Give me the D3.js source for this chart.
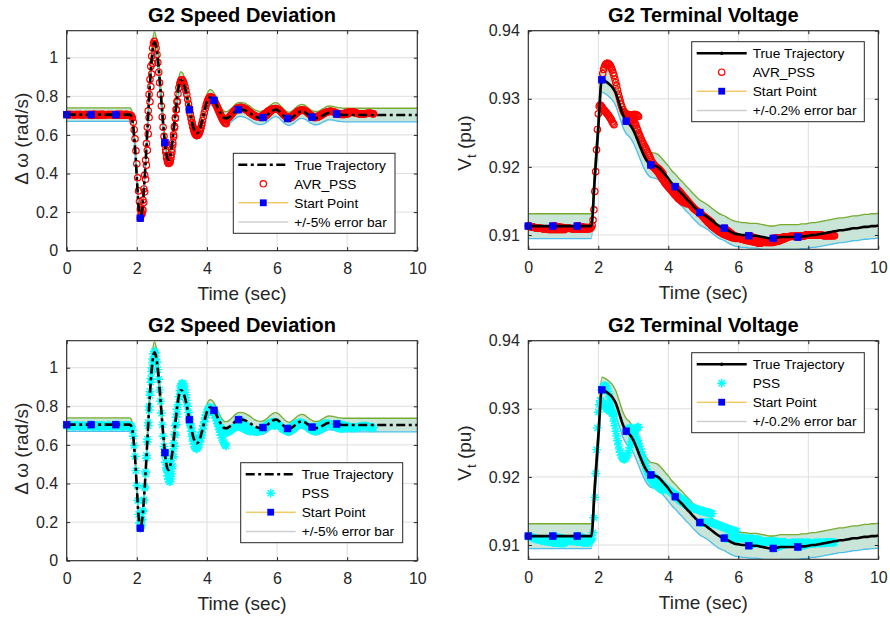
<!DOCTYPE html>
<html>
<head>
<meta charset="utf-8">
<script src="https://cdn.jsdelivr.net/npm/d3@7"></script>
<style>
  html, body { margin: 0; padding: 0; background: #ffffff; }
  svg { display: block; font-family: "Liberation Sans", Arial, Helvetica, sans-serif; }
</style>
</head>
<body>
<svg id="fig" width="890" height="620"></svg>
<script>
// ---------------- data ----------------
const xTicks = [0, 2, 4, 6, 8, 10];
const speedTicks = [0, 0.2, 0.4, 0.6, 0.8, 1];
const voltTicks = [0.91, 0.92, 0.93, 0.94];

// relative half-width of the error bands
const speedErrPct = 0.05;
const voltErrPct = 0.002;

// true G2 speed deviation (rad/s), sampled every 0.05 s from 0 to 10 s
const speedTrueStep = 0.05;
const speedTrue = [
  0.705,0.705,0.705,0.705,0.705,0.705,0.705,0.705,0.705,0.705,
  0.705,0.705,0.705,0.705,0.705,0.705,0.705,0.705,0.705,0.705,
  0.705,0.705,0.705,0.705,0.705,0.705,0.705,0.705,0.705,0.705,
  0.705,0.705,0.705,0.705,0.705,0.705,0.705,0.695,0.640,0.530,
  0.380,0.228,0.168,0.210,0.310,0.455,0.620,0.790,0.935,1.035,
  1.080,1.057,0.990,0.890,0.775,0.660,0.560,0.493,0.470,0.490,
  0.544,0.623,0.713,0.796,0.856,0.883,0.879,0.858,0.824,0.780,
  0.731,0.687,0.647,0.620,0.608,0.613,0.632,0.664,0.700,0.739,
  0.771,0.790,0.795,0.790,0.779,0.763,0.744,0.725,0.708,0.695,
  0.687,0.686,0.689,0.695,0.703,0.712,0.720,0.727,0.731,0.732,
  0.731,0.729,0.726,0.721,0.716,0.710,0.703,0.697,0.693,0.690,
  0.688,0.688,0.690,0.694,0.700,0.708,0.716,0.723,0.728,0.731,
  0.730,0.724,0.716,0.706,0.697,0.690,0.685,0.684,0.687,0.693,
  0.700,0.708,0.715,0.720,0.722,0.721,0.717,0.710,0.703,0.697,
  0.692,0.688,0.687,0.688,0.690,0.695,0.700,0.705,0.710,0.713,
  0.714,0.713,0.712,0.710,0.708,0.706,0.705,0.704,0.703,0.703,
  0.703,0.703,0.703,0.703,0.703,0.703,0.703,0.703,0.703,0.703,
  0.703,0.703,0.703,0.703,0.703,0.703,0.703,0.703,0.703,0.703,
  0.703,0.703,0.703,0.703,0.703,0.703,0.703,0.703,0.703,0.703,
  0.703,0.703,0.703,0.703,0.703,0.703,0.703,0.703,0.703,0.703,
  0.703
];

// true G2 terminal voltage (pu), sampled every 0.1 s from 0 to 10 s
const voltTrueStep = 0.1;
const voltTrue = [
  0.9113,0.9113,0.9113,0.9113,0.9113,0.9113,0.9113,0.9113,0.9113,0.9113,
  0.9113,0.9113,0.9113,0.9113,0.9113,0.9113,0.9113,0.9113,0.9113,0.9185,
  0.9258,0.9328,0.9326,0.9322,0.9317,0.9308,0.9293,0.9277,0.9267,0.9262,
  0.9254,0.9242,0.9229,0.9217,0.9208,0.9203,0.9202,0.9200,0.9195,0.9189,
  0.9183,0.9176,0.9171,0.9165,0.9160,0.9154,0.9149,0.9143,0.9138,0.9133,
  0.9130,0.9127,0.9123,0.9119,0.9115,0.9112,0.9110,0.9107,0.9104,0.9102,
  0.9101,0.9100,0.9100,0.9099,0.9099,0.9099,0.9098,0.9097,0.9096,0.9095,
  0.9095,0.9096,0.9097,0.9097,0.9097,0.9097,0.9097,0.9097,0.9098,0.9098,
  0.9099,0.9100,0.9100,0.9101,0.9102,0.9103,0.9104,0.9105,0.9106,0.9107,
  0.9107,0.9108,0.9109,0.9110,0.9110,0.9111,0.9112,0.9112,0.9113,0.9113,
  0.9114
];

// start points of the estimation windows
const startTimes = [0, 0.7, 1.4, 2.1, 2.8, 3.5, 4.2, 4.9, 5.6, 6.3, 7.0, 7.7];
const speedStart = [0.705,0.705,0.705,0.168,0.560,0.731,0.779,0.731,0.690,0.685,0.692,0.708];
const voltStart = [0.9113,0.9113,0.9113,0.9328,0.9267,0.9203,0.9171,0.9133,0.9110,0.9099,0.9095,0.9097];

// estimated trajectories: one window per start point, 0.025 s apart, 43 samples each
const estStep = 0.025;

const avrSpeedSegments = [
  [0.706,0.706,0.705,0.705,0.706,0.706,0.705,0.705,0.704,0.704,0.705,0.705,0.706,0.706,0.705,0.705,0.705,0.705,0.704,0.704,0.705,0.705,0.706,0.706,0.705,0.705,0.705,0.705,0.704,0.704,0.705,0.705,0.706,0.706,0.705,0.705,0.704,0.704,0.705,0.705,0.705,0.705,0.706],
  [0.705,0.705,0.706,0.706,0.705,0.705,0.704,0.704,0.705,0.705,0.705,0.705,0.706,0.706,0.705,0.705,0.704,0.704,0.705,0.705,0.706,0.706,0.705,0.705,0.705,0.705,0.704,0.704,0.705,0.705,0.706,0.706,0.705,0.705,0.705,0.705,0.704,0.704,0.705,0.705,0.706,0.706,0.705],
  [0.705,0.705,0.705,0.706,0.706,0.705,0.705,0.705,0.705,0.704,0.704,0.705,0.705,0.704,0.704,0.703,0.702,0.701,0.698,0.687,0.665,0.627,0.580,0.518,0.450,0.378,0.310,0.255,0.215,0.195,0.190,0.210,0.250,0.305,0.370,0.443,0.520,0.605,0.690,0.772,0.850,0.915,0.970],
  [0.168,0.185,0.215,0.262,0.320,0.392,0.470,0.555,0.640,0.725,0.810,0.887,0.955,1.008,1.050,1.075,1.085,1.072,1.050,1.016,0.975,0.925,0.870,0.810,0.750,0.693,0.640,0.593,0.550,0.512,0.480,0.462,0.452,0.456,0.470,0.494,0.525,0.561,0.600,0.644,0.690,0.731,0.770],
  [0.560,0.522,0.490,0.468,0.455,0.453,0.460,0.481,0.510,0.548,0.590,0.637,0.685,0.731,0.775,0.813,0.845,0.866,0.880,0.885,0.885,0.877,0.865,0.849,0.830,0.809,0.785,0.760,0.735,0.710,0.685,0.662,0.640,0.623,0.610,0.602,0.597,0.597,0.600,0.608,0.620,0.636,0.655],
  [0.731,0.707,0.685,0.664,0.645,0.628,0.615,0.606,0.600,0.599,0.602,0.609,0.620,0.636,0.655,0.675,0.695,0.715,0.735,0.753,0.768,0.781,0.790,0.795,0.797,0.796,0.793,0.787,0.780,0.771,0.762,0.752,0.742,0.731,0.720,0.709,0.698,0.688,0.678,0.671,0.665,0.661,0.658],
  [0.779,0.770,0.760,0.750,0.740,0.730,0.720,0.710,0.700,0.693,0.687,0.683,0.680,0.679,0.680,0.683,0.686,0.690,0.695,0.700,0.706,0.712,0.718,0.723,0.728,0.732,0.736,0.739,0.741,0.742,0.743,0.743,0.742,0.741,0.739,0.737,0.734,0.731,0.728,0.724,0.720,0.716,0.713],
  [0.731,0.734,0.736,0.737,0.738,0.738,0.737,0.735,0.733,0.730,0.727,0.724,0.720,0.716,0.713,0.709,0.706,0.703,0.700,0.698,0.696,0.695,0.694,0.694,0.694,0.695,0.697,0.699,0.702,0.705,0.709,0.712,0.716,0.720,0.723,0.726,0.729,0.731,0.733,0.734,0.735,0.735,0.734],
  [0.690,0.692,0.695,0.698,0.702,0.706,0.711,0.716,0.720,0.724,0.728,0.731,0.733,0.735,0.736,0.736,0.735,0.733,0.730,0.726,0.722,0.717,0.712,0.707,0.703,0.699,0.696,0.694,0.692,0.691,0.692,0.693,0.695,0.697,0.700,0.703,0.707,0.711,0.715,0.719,0.722,0.725,0.727],
  [0.685,0.685,0.686,0.688,0.690,0.693,0.697,0.701,0.705,0.709,0.713,0.717,0.720,0.723,0.726,0.728,0.729,0.730,0.729,0.727,0.725,0.722,0.719,0.715,0.711,0.707,0.703,0.700,0.697,0.695,0.694,0.693,0.693,0.694,0.695,0.697,0.699,0.701,0.704,0.706,0.709,0.711,0.713],
  [0.692,0.691,0.690,0.690,0.690,0.691,0.692,0.694,0.696,0.698,0.701,0.704,0.707,0.710,0.712,0.715,0.717,0.719,0.720,0.721,0.722,0.722,0.722,0.721,0.720,0.719,0.717,0.715,0.713,0.711,0.710,0.708,0.707,0.706,0.706,0.706,0.706,0.706,0.707,0.708,0.709,0.710,0.712],
  [0.708,0.707,0.707,0.707,0.707,0.707,0.708,0.709,0.710,0.711,0.713,0.714,0.716,0.717,0.718,0.719,0.719,0.719,0.719,0.718,0.717,0.716,0.714,0.712,0.711,0.710,0.709,0.708,0.708,0.708,0.708,0.708,0.709,0.710,0.711,0.712,0.712,0.712,0.712,0.712,0.711,0.710,0.709]
];

const pssSpeedSegments = [
  [0.700,0.699,0.698,0.700,0.701,0.700,0.699,0.698,0.697,0.698,0.700,0.701,0.702,0.700,0.699,0.698,0.697,0.698,0.700,0.699,0.698,0.697,0.696,0.697,0.699,0.700,0.701,0.700,0.698,0.697,0.697,0.698,0.699,0.700,0.700,0.699,0.698,0.697,0.696,0.697,0.699,0.700,0.700],
  [0.705,0.703,0.701,0.699,0.698,0.699,0.700,0.698,0.697,0.698,0.699,0.700,0.701,0.700,0.698,0.697,0.696,0.697,0.699,0.700,0.700,0.698,0.697,0.697,0.698,0.699,0.700,0.698,0.697,0.698,0.699,0.700,0.701,0.700,0.698,0.697,0.696,0.697,0.699,0.700,0.700,0.699,0.698],
  [0.705,0.703,0.702,0.700,0.699,0.699,0.700,0.699,0.698,0.699,0.700,0.700,0.699,0.699,0.700,0.700,0.700,0.699,0.695,0.675,0.645,0.597,0.540,0.467,0.390,0.312,0.240,0.195,0.175,0.182,0.210,0.255,0.310,0.377,0.450,0.531,0.615,0.699,0.780,0.857,0.925,0.980,1.025],
  [0.168,0.185,0.215,0.260,0.315,0.385,0.460,0.545,0.630,0.716,0.800,0.877,0.945,1.000,1.045,1.072,1.085,1.078,1.060,1.030,0.990,0.940,0.885,0.826,0.765,0.704,0.645,0.592,0.545,0.509,0.480,0.464,0.455,0.461,0.475,0.499,0.530,0.568,0.610,0.655,0.700,0.743,0.785],
  [0.560,0.510,0.470,0.440,0.420,0.410,0.410,0.424,0.450,0.490,0.540,0.593,0.650,0.706,0.760,0.808,0.850,0.882,0.905,0.916,0.920,0.915,0.905,0.885,0.860,0.831,0.800,0.768,0.735,0.702,0.670,0.643,0.620,0.603,0.590,0.583,0.580,0.583,0.590,0.601,0.615,0.634,0.655],
  [0.731,0.710,0.690,0.670,0.650,0.634,0.622,0.614,0.610,0.611,0.615,0.624,0.635,0.649,0.665,0.682,0.700,0.720,0.740,0.756,0.770,0.782,0.790,0.793,0.793,0.790,0.785,0.776,0.765,0.753,0.740,0.725,0.710,0.695,0.680,0.665,0.650,0.637,0.625,0.614,0.605,0.599,0.595],
  [0.779,0.767,0.755,0.742,0.730,0.717,0.705,0.694,0.685,0.678,0.672,0.668,0.665,0.664,0.664,0.665,0.667,0.670,0.673,0.677,0.680,0.684,0.687,0.690,0.692,0.694,0.695,0.696,0.696,0.695,0.694,0.692,0.690,0.688,0.685,0.682,0.680,0.678,0.676,0.674,0.673,0.672,0.672],
  [0.731,0.729,0.726,0.723,0.720,0.716,0.712,0.708,0.703,0.698,0.694,0.690,0.686,0.682,0.679,0.676,0.673,0.671,0.670,0.669,0.669,0.669,0.670,0.671,0.673,0.675,0.678,0.681,0.684,0.687,0.690,0.693,0.696,0.698,0.700,0.702,0.703,0.704,0.704,0.704,0.703,0.702,0.700],
  [0.690,0.692,0.694,0.697,0.700,0.704,0.707,0.710,0.713,0.715,0.717,0.718,0.718,0.717,0.716,0.714,0.711,0.707,0.703,0.699,0.694,0.690,0.686,0.682,0.679,0.676,0.674,0.673,0.672,0.672,0.673,0.675,0.677,0.680,0.683,0.686,0.690,0.694,0.697,0.700,0.702,0.704,0.705],
  [0.685,0.685,0.686,0.688,0.690,0.693,0.696,0.700,0.703,0.706,0.709,0.711,0.713,0.714,0.715,0.715,0.714,0.712,0.710,0.707,0.704,0.700,0.696,0.692,0.688,0.684,0.681,0.678,0.676,0.674,0.673,0.673,0.673,0.674,0.675,0.677,0.679,0.681,0.684,0.686,0.689,0.691,0.693],
  [0.692,0.691,0.690,0.690,0.690,0.691,0.692,0.694,0.696,0.698,0.700,0.703,0.705,0.707,0.708,0.709,0.710,0.710,0.710,0.709,0.708,0.706,0.704,0.702,0.700,0.697,0.695,0.693,0.691,0.689,0.688,0.687,0.686,0.686,0.686,0.686,0.687,0.688,0.689,0.690,0.692,0.693,0.694],
  [0.708,0.708,0.707,0.706,0.705,0.704,0.703,0.702,0.700,0.698,0.697,0.695,0.694,0.693,0.692,0.691,0.690,0.689,0.689,0.689,0.689,0.689,0.690,0.691,0.692,0.693,0.694,0.695,0.696,0.697,0.697,0.697,0.697,0.697,0.696,0.695,0.694,0.693,0.692,0.691,0.690,0.689,0.689]
];

const avrVoltSegments = [
  [0.9113,0.9113,0.9112,0.9112,0.9112,0.9112,0.9111,0.9111,0.9111,0.9110,0.9110,0.9110,0.9110,0.9110,0.9110,0.9110,0.9109,0.9109,0.9109,0.9109,0.9109,0.9109,0.9109,0.9108,0.9108,0.9108,0.9108,0.9108,0.9108,0.9108,0.9108,0.9108,0.9108,0.9108,0.9108,0.9108,0.9108,0.9108,0.9108,0.9108,0.9108,0.9108,0.9108],
  [0.9113,0.9113,0.9113,0.9113,0.9112,0.9112,0.9112,0.9112,0.9111,0.9111,0.9111,0.9111,0.9111,0.9110,0.9110,0.9110,0.9110,0.9110,0.9110,0.9110,0.9110,0.9109,0.9109,0.9109,0.9109,0.9109,0.9109,0.9109,0.9109,0.9109,0.9109,0.9109,0.9109,0.9109,0.9109,0.9109,0.9109,0.9109,0.9109,0.9109,0.9109,0.9109,0.9109],
  [0.9113,0.9113,0.9113,0.9112,0.9112,0.9112,0.9112,0.9111,0.9111,0.9111,0.9111,0.9111,0.9111,0.9110,0.9110,0.9110,0.9111,0.9114,0.9122,0.9137,0.9164,0.9193,0.9225,0.9255,0.9278,0.9289,0.9291,0.9290,0.9288,0.9286,0.9284,0.9283,0.9281,0.9280,0.9278,0.9277,0.9275,0.9273,0.9271,0.9269,0.9266,0.9264,0.9262],
  [0.9328,0.9337,0.9343,0.9347,0.9350,0.9351,0.9352,0.9352,0.9351,0.9350,0.9348,0.9345,0.9342,0.9338,0.9334,0.9329,0.9324,0.9319,0.9313,0.9307,0.9302,0.9297,0.9292,0.9288,0.9284,0.9281,0.9279,0.9278,0.9277,0.9276,0.9276,0.9276,0.9276,0.9276,0.9276,0.9276,0.9277,0.9277,0.9277,0.9277,0.9276,0.9275,0.9274],
  [0.9267,0.9267,0.9268,0.9269,0.9270,0.9270,0.9270,0.9269,0.9268,0.9266,0.9264,0.9261,0.9257,0.9254,0.9250,0.9247,0.9244,0.9241,0.9238,0.9235,0.9233,0.9230,0.9228,0.9225,0.9222,0.9219,0.9217,0.9214,0.9211,0.9208,0.9206,0.9204,0.9203,0.9201,0.9200,0.9199,0.9198,0.9197,0.9196,0.9194,0.9193,0.9191,0.9190],
  [0.9203,0.9202,0.9201,0.9200,0.9199,0.9197,0.9196,0.9194,0.9193,0.9191,0.9189,0.9187,0.9185,0.9183,0.9181,0.9179,0.9177,0.9175,0.9174,0.9172,0.9171,0.9169,0.9168,0.9166,0.9165,0.9163,0.9162,0.9160,0.9159,0.9157,0.9156,0.9154,0.9153,0.9152,0.9151,0.9150,0.9149,0.9148,0.9148,0.9147,0.9147,0.9146,0.9146],
  [0.9171,0.9169,0.9168,0.9166,0.9165,0.9163,0.9162,0.9160,0.9159,0.9157,0.9156,0.9154,0.9153,0.9151,0.9150,0.9148,0.9147,0.9145,0.9144,0.9142,0.9141,0.9139,0.9138,0.9137,0.9136,0.9135,0.9134,0.9133,0.9132,0.9131,0.9130,0.9129,0.9128,0.9127,0.9126,0.9125,0.9124,0.9123,0.9122,0.9121,0.9120,0.9119,0.9118],
  [0.9133,0.9131,0.9130,0.9128,0.9127,0.9125,0.9124,0.9122,0.9121,0.9119,0.9118,0.9117,0.9116,0.9114,0.9113,0.9112,0.9111,0.9110,0.9109,0.9108,0.9107,0.9106,0.9105,0.9104,0.9104,0.9103,0.9102,0.9101,0.9101,0.9100,0.9100,0.9099,0.9099,0.9098,0.9098,0.9097,0.9097,0.9096,0.9096,0.9096,0.9096,0.9095,0.9095],
  [0.9110,0.9109,0.9108,0.9107,0.9106,0.9105,0.9104,0.9103,0.9102,0.9101,0.9100,0.9099,0.9099,0.9098,0.9097,0.9096,0.9096,0.9095,0.9095,0.9094,0.9094,0.9094,0.9093,0.9093,0.9093,0.9092,0.9092,0.9092,0.9092,0.9091,0.9091,0.9091,0.9090,0.9090,0.9090,0.9090,0.9089,0.9089,0.9089,0.9088,0.9088,0.9088,0.9088],
  [0.9099,0.9098,0.9098,0.9097,0.9097,0.9096,0.9096,0.9095,0.9095,0.9094,0.9094,0.9093,0.9092,0.9092,0.9091,0.9091,0.9090,0.9090,0.9090,0.9089,0.9089,0.9089,0.9089,0.9089,0.9089,0.9089,0.9089,0.9089,0.9089,0.9090,0.9090,0.9090,0.9091,0.9091,0.9091,0.9092,0.9092,0.9093,0.9093,0.9094,0.9094,0.9095,0.9095],
  [0.9095,0.9095,0.9095,0.9095,0.9095,0.9096,0.9096,0.9096,0.9096,0.9096,0.9096,0.9097,0.9097,0.9097,0.9097,0.9097,0.9097,0.9097,0.9097,0.9098,0.9098,0.9098,0.9098,0.9098,0.9098,0.9098,0.9098,0.9099,0.9099,0.9099,0.9099,0.9099,0.9099,0.9099,0.9099,0.9099,0.9099,0.9100,0.9100,0.9100,0.9100,0.9100,0.9100],
  [0.9097,0.9097,0.9098,0.9098,0.9098,0.9099,0.9099,0.9099,0.9099,0.9100,0.9100,0.9100,0.9100,0.9100,0.9100,0.9100,0.9100,0.9100,0.9100,0.9100,0.9100,0.9100,0.9100,0.9100,0.9100,0.9100,0.9100,0.9100,0.9100,0.9099,0.9099,0.9099,0.9099,0.9099,0.9099,0.9099,0.9099,0.9099,0.9099,0.9099,0.9099,0.9099,0.9099]
];

const pssVoltSegments = [
  [0.9113,0.9113,0.9112,0.9112,0.9111,0.9111,0.9110,0.9110,0.9109,0.9109,0.9109,0.9108,0.9108,0.9108,0.9107,0.9107,0.9107,0.9107,0.9106,0.9106,0.9106,0.9106,0.9105,0.9105,0.9105,0.9105,0.9105,0.9104,0.9104,0.9104,0.9104,0.9104,0.9104,0.9104,0.9103,0.9103,0.9103,0.9103,0.9103,0.9103,0.9103,0.9103,0.9103],
  [0.9113,0.9113,0.9112,0.9112,0.9111,0.9111,0.9111,0.9110,0.9110,0.9110,0.9109,0.9109,0.9109,0.9108,0.9108,0.9108,0.9108,0.9107,0.9107,0.9107,0.9107,0.9106,0.9106,0.9106,0.9106,0.9106,0.9106,0.9105,0.9105,0.9105,0.9105,0.9105,0.9105,0.9105,0.9104,0.9104,0.9104,0.9104,0.9104,0.9104,0.9104,0.9104,0.9104],
  [0.9113,0.9113,0.9112,0.9112,0.9111,0.9111,0.9110,0.9110,0.9109,0.9109,0.9108,0.9108,0.9108,0.9107,0.9107,0.9107,0.9108,0.9110,0.9118,0.9140,0.9170,0.9205,0.9240,0.9272,0.9295,0.9306,0.9312,0.9312,0.9310,0.9308,0.9306,0.9305,0.9303,0.9301,0.9300,0.9299,0.9298,0.9297,0.9296,0.9295,0.9294,0.9293,0.9292],
  [0.9328,0.9331,0.9333,0.9334,0.9334,0.9333,0.9330,0.9326,0.9322,0.9316,0.9310,0.9303,0.9296,0.9289,0.9282,0.9275,0.9267,0.9260,0.9253,0.9247,0.9241,0.9236,0.9232,0.9229,0.9227,0.9226,0.9226,0.9227,0.9229,0.9232,0.9235,0.9239,0.9243,0.9248,0.9252,0.9257,0.9261,0.9265,0.9268,0.9270,0.9272,0.9273,0.9273],
  [0.9267,0.9269,0.9270,0.9271,0.9272,0.9272,0.9271,0.9269,0.9267,0.9265,0.9262,0.9259,0.9256,0.9253,0.9249,0.9245,0.9241,0.9237,0.9233,0.9228,0.9224,0.9220,0.9216,0.9212,0.9208,0.9205,0.9202,0.9199,0.9197,0.9195,0.9193,0.9191,0.9190,0.9189,0.9188,0.9187,0.9186,0.9185,0.9184,0.9183,0.9182,0.9181,0.9180],
  [0.9203,0.9202,0.9201,0.9200,0.9199,0.9198,0.9197,0.9196,0.9195,0.9194,0.9193,0.9191,0.9190,0.9189,0.9188,0.9186,0.9185,0.9184,0.9183,0.9182,0.9181,0.9180,0.9179,0.9178,0.9177,0.9176,0.9175,0.9174,0.9174,0.9173,0.9172,0.9171,0.9170,0.9169,0.9168,0.9167,0.9167,0.9166,0.9165,0.9164,0.9163,0.9162,0.9161],
  [0.9171,0.9170,0.9169,0.9168,0.9167,0.9166,0.9165,0.9164,0.9163,0.9162,0.9161,0.9160,0.9160,0.9159,0.9158,0.9157,0.9157,0.9156,0.9156,0.9155,0.9155,0.9154,0.9154,0.9153,0.9153,0.9152,0.9152,0.9151,0.9151,0.9150,0.9150,0.9150,0.9150,0.9149,0.9149,0.9148,0.9148,0.9148,0.9148,0.9147,0.9147,0.9146,0.9146],
  [0.9133,0.9133,0.9133,0.9133,0.9133,0.9133,0.9133,0.9133,0.9133,0.9133,0.9133,0.9133,0.9133,0.9133,0.9132,0.9132,0.9132,0.9131,0.9131,0.9130,0.9130,0.9129,0.9129,0.9128,0.9128,0.9127,0.9127,0.9126,0.9126,0.9125,0.9125,0.9124,0.9124,0.9123,0.9123,0.9122,0.9122,0.9121,0.9121,0.9121,0.9121,0.9120,0.9120],
  [0.9110,0.9110,0.9110,0.9110,0.9110,0.9110,0.9110,0.9110,0.9110,0.9110,0.9110,0.9110,0.9110,0.9110,0.9110,0.9110,0.9110,0.9110,0.9110,0.9110,0.9110,0.9110,0.9110,0.9110,0.9109,0.9109,0.9109,0.9109,0.9109,0.9109,0.9109,0.9109,0.9109,0.9109,0.9108,0.9108,0.9108,0.9108,0.9108,0.9108,0.9107,0.9107,0.9107],
  [0.9099,0.9100,0.9100,0.9101,0.9101,0.9102,0.9102,0.9103,0.9103,0.9104,0.9104,0.9104,0.9104,0.9104,0.9105,0.9105,0.9105,0.9105,0.9105,0.9105,0.9105,0.9105,0.9105,0.9105,0.9105,0.9105,0.9105,0.9105,0.9105,0.9105,0.9105,0.9105,0.9105,0.9104,0.9104,0.9104,0.9104,0.9104,0.9104,0.9104,0.9104,0.9104,0.9104],
  [0.9095,0.9096,0.9096,0.9097,0.9097,0.9098,0.9098,0.9099,0.9099,0.9100,0.9100,0.9101,0.9101,0.9101,0.9101,0.9102,0.9102,0.9102,0.9102,0.9102,0.9102,0.9103,0.9103,0.9103,0.9103,0.9103,0.9103,0.9103,0.9103,0.9103,0.9103,0.9103,0.9103,0.9103,0.9103,0.9103,0.9103,0.9103,0.9103,0.9103,0.9103,0.9103,0.9103],
  [0.9097,0.9098,0.9098,0.9099,0.9099,0.9100,0.9100,0.9100,0.9100,0.9101,0.9101,0.9101,0.9101,0.9102,0.9102,0.9102,0.9102,0.9102,0.9102,0.9103,0.9103,0.9103,0.9103,0.9103,0.9103,0.9103,0.9103,0.9103,0.9103,0.9103,0.9103,0.9103,0.9104,0.9104,0.9104,0.9104,0.9104,0.9104,0.9104,0.9104,0.9104,0.9104,0.9104]
];

// ---------------- styling ----------------
const COL = {
  axis: "#262626",
  grid: "#dedede",
  bandFill: "#c8e5d7",
  bandUpper: "#77ac30",
  bandLower: "#4dbeee",
  avr: "#ff0000",
  pss: "#00ffff",
  startFill: "#0000ff",
  startLine: "#edb120",
  legendBand: "#cfcfcf"
};
const trueDash = "9,3.5,3,3.5";

const svg = d3.select("#fig");
const defs = svg.append("defs");

const starPath = "M-4.4,0H4.4M0,-4.4V4.4M-3.1,-3.1L3.1,3.1M-3.1,3.1L3.1,-3.1";

const panels = [
  { id: "a", title: "G2 Speed Deviation", l: 66.7, r: 417.3, t: 30.7, b: 250.7,
    yDomain: [0, 1.14], yTicks: speedTicks, trueVals: speedTrue, trueStep: speedTrueStep,
    pct: speedErrPct, starts: speedStart, segs: avrSpeedSegments, marker: "circle",
    dashed: true, yLabel: "speed", estName: "AVR_PSS", bandName: "+/-5% error bar",
    leg: { x: 233.3, y: 153.3, w: 161.7 } },
  { id: "b", title: "G2 Terminal Voltage", l: 528.3, r: 878.3, t: 30.7, b: 249.3,
    yDomain: [0.9079, 0.94], yTicks: voltTicks, trueVals: voltTrue, trueStep: voltTrueStep,
    pct: voltErrPct, starts: voltStart, segs: avrVoltSegments, marker: "circle",
    dashed: false, yLabel: "volt", estName: "AVR_PSS", bandName: "+/-0.2% error bar",
    leg: { x: 691.7, y: 41.7, w: 172.6 } },
  { id: "c", title: "G2 Speed Deviation", l: 66.7, r: 417.3, t: 340.7, b: 560.7,
    yDomain: [0, 1.14], yTicks: speedTicks, trueVals: speedTrue, trueStep: speedTrueStep,
    pct: speedErrPct, starts: speedStart, segs: pssSpeedSegments, marker: "star",
    dashed: true, yLabel: "speed", estName: "PSS", bandName: "+/-5% error bar",
    leg: { x: 240.7, y: 462.7, w: 162 } },
  { id: "d", title: "G2 Terminal Voltage", l: 528.3, r: 878.3, t: 340.7, b: 559.3,
    yDomain: [0.9079, 0.94], yTicks: voltTicks, trueVals: voltTrue, trueStep: voltTrueStep,
    pct: voltErrPct, starts: voltStart, segs: pssVoltSegments, marker: "star",
    dashed: false, yLabel: "volt", estName: "PSS", bandName: "+/-0.2% error bar",
    leg: { x: 691.7, y: 352.7, w: 172.6 } }
];

function drawMarker(sel, kind) {
  if (kind === "circle") {
    sel.append("circle").attr("r", 3.2)
      .attr("fill", "none").attr("stroke", COL.avr).attr("stroke-width", 1.2);
  } else {
    sel.append("path").attr("d", starPath)
      .attr("fill", "none").attr("stroke", COL.pss).attr("stroke-width", 1.4);
  }
}

panels.forEach(p => {
  const x = d3.scaleLinear().domain([0, 10]).range([p.l, p.r]);
  const y = d3.scaleLinear().domain(p.yDomain).range([p.b, p.t]);
  const g = svg.append("g").attr("class", "panel-" + p.id);

  const clipId = "clip-" + p.id;
  defs.append("clipPath").attr("id", clipId)
    .append("rect").attr("x", p.l).attr("y", p.t)
    .attr("width", p.r - p.l).attr("height", p.b - p.t);

  // grid
  const grid = g.append("g");
  grid.selectAll("line.gx").data(xTicks).join("line")
    .attr("x1", d => x(d)).attr("x2", d => x(d))
    .attr("y1", p.t).attr("y2", p.b)
    .attr("stroke", COL.grid).attr("stroke-width", 1);
  grid.selectAll("line.gy").data(p.yTicks).join("line")
    .attr("x1", p.l).attr("x2", p.r)
    .attr("y1", d => y(d)).attr("y2", d => y(d))
    .attr("stroke", COL.grid).attr("stroke-width", 1);

  const trueData = p.trueVals.map((v, i) => ({ t: i * p.trueStep, v }));

  // error band
  const bandG = g.append("g").attr("clip-path", `url(#${clipId})`);
  bandG.append("path").datum(trueData)
    .attr("d", d3.area().curve(d3.curveMonotoneX)
      .x(d => x(d.t)).y0(d => y(d.v * (1 - p.pct))).y1(d => y(d.v * (1 + p.pct))))
    .attr("fill", COL.bandFill).attr("stroke", "none");
  bandG.append("path").datum(trueData)
    .attr("d", d3.line().curve(d3.curveMonotoneX).x(d => x(d.t)).y(d => y(d.v * (1 + p.pct))))
    .attr("fill", "none").attr("stroke", COL.bandUpper).attr("stroke-width", 1.3);
  bandG.append("path").datum(trueData)
    .attr("d", d3.line().curve(d3.curveMonotoneX).x(d => x(d.t)).y(d => y(d.v * (1 - p.pct))))
    .attr("fill", "none").attr("stroke", COL.bandLower).attr("stroke-width", 1.3);

  // estimated trajectories
  const estData = p.segs.flatMap((seg, k) =>
    seg.map((v, j) => ({ t: startTimes[k] + j * estStep, v })));
  const mk = g.append("g").selectAll("g").data(estData).join("g")
    .attr("transform", d => `translate(${x(d.t)},${y(d.v)})`);
  drawMarker(mk, p.marker);

  // true trajectory line (above the estimates)
  const lineG = g.append("g").attr("clip-path", `url(#${clipId})`);
  const tl = lineG.append("path").datum(trueData)
    .attr("d", d3.line().curve(d3.curveMonotoneX).x(d => x(d.t)).y(d => y(d.v)))
    .attr("fill", "none").attr("stroke", "#000").attr("stroke-width", 2.6)
    .attr("stroke-linejoin", "round");
  if (p.dashed) tl.attr("stroke-dasharray", trueDash);

  // start points
  g.append("g").selectAll("rect").data(startTimes.map((t, i) => ({ t, v: p.starts[i] })))
    .join("rect")
    .attr("x", d => x(d.t) - 3.4).attr("y", d => y(d.v) - 3.4)
    .attr("width", 6.8).attr("height", 6.8)
    .attr("fill", COL.startFill).attr("stroke", COL.startFill).attr("stroke-width", 0.6);

  // axes
  const ax = g.append("g").attr("class", "axes");
  const xb = ax.append("g").attr("transform", `translate(0,${p.b})`)
    .call(d3.axisBottom(x).tickValues(xTicks).tickFormat(d3.format("d"))
      .tickSizeInner(-3.5).tickSizeOuter(0).tickPadding(12));
  const xt = ax.append("g").attr("transform", `translate(0,${p.t})`)
    .call(d3.axisTop(x).tickValues(xTicks).tickFormat("").tickSizeInner(-3.5).tickSizeOuter(0));
  const yl = ax.append("g").attr("transform", `translate(${p.l},0)`)
    .call(d3.axisLeft(y).tickValues(p.yTicks).tickFormat(d => String(d))
      .tickSizeInner(-3.5).tickSizeOuter(0).tickPadding(8.5));
  const yr = ax.append("g").attr("transform", `translate(${p.r},0)`)
    .call(d3.axisRight(y).tickValues(p.yTicks).tickFormat("").tickSizeInner(-3.5).tickSizeOuter(0));
  [xb, xt, yl, yr].forEach(a => {
    a.select(".domain").remove();
    a.selectAll(".tick line").attr("stroke", COL.axis).attr("stroke-width", 1);
    a.selectAll(".tick text").attr("fill", COL.axis)
      .style("font-size", "16px").style("font-family", "'Liberation Sans', Arial, sans-serif");
  });

  ax.append("rect").attr("x", p.l).attr("y", p.t)
    .attr("width", p.r - p.l).attr("height", p.b - p.t)
    .attr("fill", "none").attr("stroke", COL.axis).attr("stroke-width", 1.1);

  // title
  g.append("text").attr("x", (p.l + p.r) / 2).attr("y", p.t - 9.2)
    .attr("text-anchor", "middle").attr("font-weight", "bold")
    .attr("font-size", 20).attr("fill", "#000").text(p.title);

  // x label
  g.append("text").attr("x", (p.l + p.r) / 2).attr("y", p.b + 49.3)
    .attr("text-anchor", "middle").attr("font-size", 19).attr("fill", COL.axis)
    .text("Time (sec)");

  // y label
  const cy = (p.t + p.b) / 2;
  if (p.yLabel === "speed") {
    g.append("text")
      .attr("transform", `translate(${p.l - 39},${cy - 2}) rotate(-90)`)
      .attr("text-anchor", "middle").attr("font-size", 19).attr("fill", COL.axis)
      .text("\u0394 \u03c9 (rad/s)");
  } else {
    const yt = g.append("text")
      .attr("transform", `translate(${p.l - 57},${cy + 3}) rotate(-90)`)
      .attr("text-anchor", "middle").attr("font-size", 19).attr("fill", COL.axis);
    yt.append("tspan").text("V");
    yt.append("tspan").attr("font-size", 13).attr("dy", 5).text("t");
    yt.append("tspan").attr("dy", -5).text(" (pu)");
  }

  // legend
  const L = p.leg;
  const lg = g.append("g").attr("transform", `translate(${L.x},${L.y})`);
  lg.append("rect").attr("width", L.w).attr("height", 80)
    .attr("fill", "#fff").attr("stroke", COL.axis).attr("stroke-width", 1);
  const rows = [11.5, 30.5, 49.5, 68.7];
  const lx0 = 5, lx1 = 55, lxm = 30, tx = 61;
  const names = ["True Trajectory", p.estName, "Start Point", p.bandName];
  const r1 = lg.append("line").attr("x1", lx0).attr("x2", lx1).attr("y1", rows[0]).attr("y2", rows[0])
    .attr("stroke", "#000").attr("stroke-width", 2.6);
  if (p.dashed) r1.attr("stroke-dasharray", trueDash);
  else lg.append("circle").attr("cx", lxm).attr("cy", rows[0]).attr("r", 1.8).attr("fill", "#000");
  drawMarker(lg.append("g").attr("transform", `translate(${lxm},${rows[1]})`), p.marker);
  lg.append("line").attr("x1", lx0).attr("x2", lx1).attr("y1", rows[2]).attr("y2", rows[2])
    .attr("stroke", COL.startLine).attr("stroke-width", 1);
  lg.append("rect").attr("x", lxm - 3.4).attr("y", rows[2] - 3.4).attr("width", 6.8).attr("height", 6.8)
    .attr("fill", COL.startFill);
  lg.append("line").attr("x1", lx0).attr("x2", lx1).attr("y1", rows[3]).attr("y2", rows[3])
    .attr("stroke", COL.legendBand).attr("stroke-width", 1.5);
  lg.selectAll("text.lt").data(names).join("text")
    .attr("x", tx).attr("y", (d, i) => rows[i]).attr("dy", "0.35em")
    .attr("font-size", 13.7).attr("fill", "#000").text(d => d);
});
</script>
</body>
</html>
